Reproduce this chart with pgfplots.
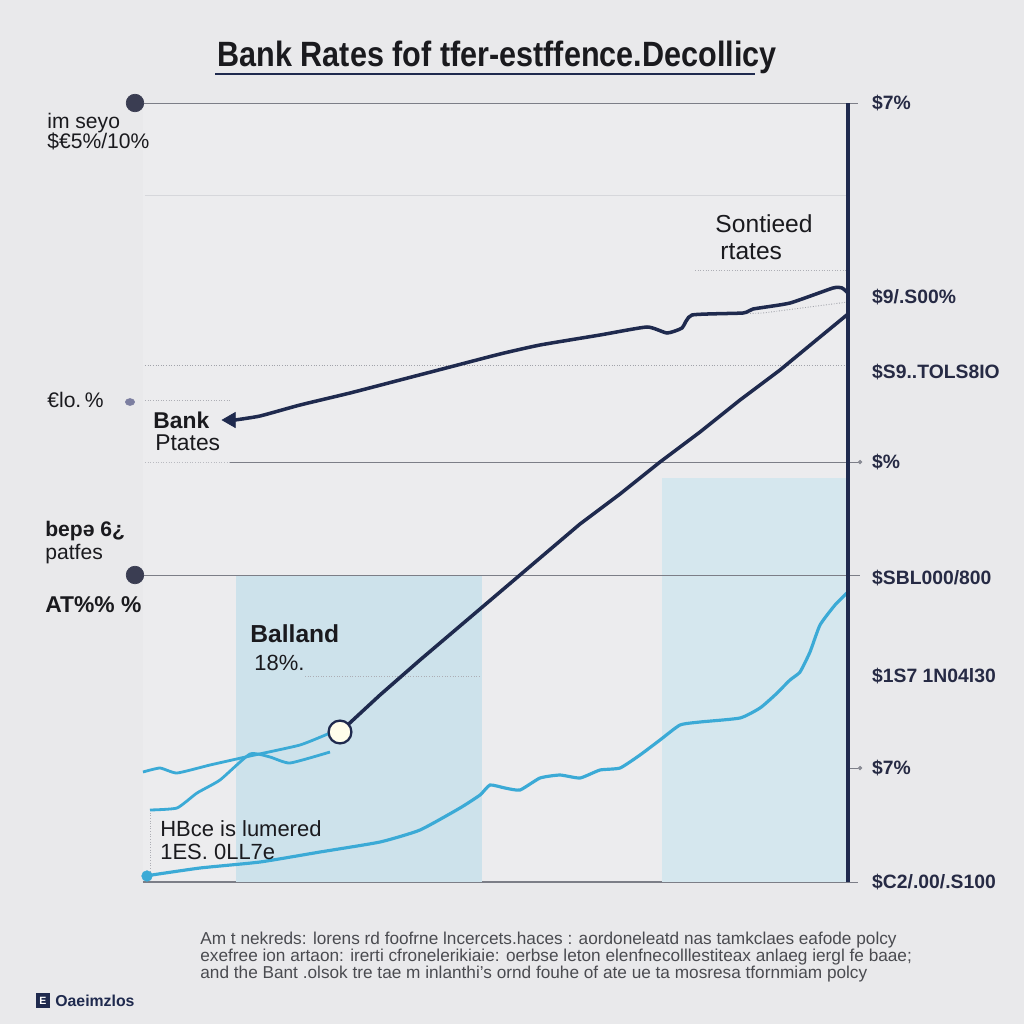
\documentclass[border=0pt]{standalone}
\usepackage{pgfplots}
\pgfplotsset{compat=1.18}
\usepackage{fontspec}
\setmainfont{Liberation Sans}
\definecolor{bg}{HTML}{E9E9EB}
\definecolor{plotbg}{HTML}{ECECEE}
\definecolor{navy}{HTML}{1F2A4E}
\definecolor{dotnavy}{HTML}{3A3D52}
\definecolor{lblue}{HTML}{3BAAD6}
\definecolor{shadeA}{HTML}{CDE2EB}
\definecolor{shadeB}{HTML}{D5E7EE}
\definecolor{grid}{HTML}{8A8C95}
\definecolor{gline}{HTML}{7C7E87}
\definecolor{faint}{HTML}{D6D7DB}
\definecolor{txt}{HTML}{1A1A1E}
\definecolor{rlab}{HTML}{262A44}
\definecolor{para}{HTML}{4A4B50}
\begin{document}
\begin{tikzpicture}
\begin{scope}[x=0.02cm,y=-0.02cm]
\fill[bg] (0,0) rectangle (1024,1024);
\end{scope}
\begin{axis}[
  at={(2.86cm,-17.64cm)}, anchor=south west,
  scale only axis, width=14.1cm, height=15.58cm,
  xmin=0, xmax=705, ymin=0, ymax=779,
  clip=false,
  axis background/.style={fill=plotbg},
  axis x line*=bottom, axis y line*=right,
  x axis line style={draw=gline, line width=0.6pt, -},
  y axis line style={draw=none, -},
  xtick=\empty,
  ytick={779,585,510,420,304,206,114,0},
  yticklabels={\$7\%, \$9/.S00\%, \$S9..TOLS8IO, \$\%, \$SBL000/800, \$1S7 1N04l30, \$7\%, \$C2/.00/.S100},
  major tick length=0pt,
  yticklabel style={font=\fontsize{11}{13}\selectfont\bfseries, color=rlab, anchor=west, xshift=0.36cm},
]
% shaded panels
\addplot[fill=shadeA, draw=none] coordinates {(93,307) (339,307)} \closedcycle;
\addplot[fill=shadeB, draw=none] coordinates {(519,404) (705,404)} \closedcycle;
% grid lines
\addplot[faint, line width=0.5pt] coordinates {(2,687) (705,687)};
\addplot[grid!80, densely dotted, line width=0.5pt] coordinates {(2,517) (705,517)};
\addplot[gline, line width=0.55pt] coordinates {(-8,779) (715,779)};
\addplot[gline, line width=0.55pt] coordinates {(-8,307) (717,307)};
\addplot[gline, line width=0.5pt] coordinates {(87,420) (717,420)};
\addplot[grid!60, densely dotted, line width=0.5pt] coordinates {(2,420) (87,420)};
\addplot[grid!70, densely dotted, line width=0.5pt] coordinates {(2,482) (87,482)};
\addplot[grid!70, densely dotted, line width=0.5pt] coordinates {(162,206) (337,206)};
\addplot[grid!70, densely dotted, line width=0.5pt] coordinates {(552,612) (705,612)};
\addplot[grid!70, densely dotted, line width=0.5pt] coordinates {(7,72) (7,6)};
\addplot[gline, line width=0.5pt] coordinates {(705,114) (715,114)};
\addplot[gline, line width=0.5pt] coordinates {(705,0) (715,0)};
\addplot[only marks, mark=*, mark size=1pt, mark options={fill=grid, draw=grid}] coordinates {(717,420) (717,114)};
% left dots
\addplot[only marks, mark=*, mark size=5pt, mark options={fill=dotnavy, draw=dotnavy}] coordinates {(-8,779) (-8,307)};
\addplot[only marks, mark=*, mark size=2.6pt, mark options={fill=grid!90!blue, draw=grid!90!blue, yscale=0.75}] coordinates {(-13,480)};
% thin dotted guide near top right
\addplot[grid!80, densely dotted, line width=0.5pt] coordinates {(557,567) (620,569) (705,580)};
% light blue curves
\addplot[lblue, line width=1.6pt, smooth, tension=0.3] coordinates {(0,110) (17,114) (34,109) (67,117) (107,126) (157,137) (187,149)};
\addplot[lblue, line width=1.6pt, smooth, tension=0.3] coordinates {(7,72) (34,74) (54,89) (77,102) (107,128) (127,125) (147,119) (187,130)};
\addplot[lblue, line width=1.8pt, smooth, tension=0.3] coordinates {(2,6) (57,14) (117,20) (177,30) (237,40) (277,52) (317,74) (337,87) (347,97) (362,94) (377,92) (397,104) (417,107) (437,104) (457,112) (477,114) (497,127) (517,142) (537,157) (557,160) (597,164) (617,174) (632,187) (647,202) (657,210) (667,230) (677,257) (692,277) (705,290)};
\addplot[only marks, mark=*, mark size=3pt, mark options={fill=lblue, draw=lblue}] coordinates {(4,6)};
% navy lines
\addplot[navy, line width=2pt] coordinates {(197,150) (237,187) (277,222) (317,256) (357,290) (397,324) (437,358) (477,388) (517,420) (557,450) (597,482) (637,512) (677,545) (705,568)};
\addplot[navy, line width=2pt, smooth, tension=0.3] coordinates {(92,462) (117,466) (157,477) (207,489) (257,502) (307,515) (357,528) (397,537) (457,547) (504,555) (524,549) (539,554) (549,567) (600,569) (610,573) (647,579) (690,594) (699,594) (705,589)};
\addplot[only marks, mark=triangle*, mark size=5pt, mark options={rotate=90, fill=navy, draw=navy}] coordinates {(88,462)};
\addplot[only marks, mark=*, mark size=6.5pt, mark options={fill=white!92!yellow, draw=navy, line width=1.3pt}] coordinates {(197,150)};
% right axis line
\addplot[navy, line width=1.8pt] coordinates {(705,0) (705,779)};
\end{axis}
\begin{scope}[x=0.02cm,y=-0.02cm]
% title
\node[font=\fontsize{20}{22}\selectfont\bfseries, text=txt, anchor=base, xscale=0.87] at (497,66) {Bank Rates fof tfer-estffence.Decollicy};
\draw[navy, line width=1.4pt] (215,74) -- (755,74);
% left labels
\node[font=\fontsize{12}{14}\selectfont, text=txt, anchor=base west, inner sep=0] at (47,128) {im seyo};
\node[font=\fontsize{12}{14}\selectfont, text=txt, anchor=base west, inner sep=0] at (47,148) {\$€5\%/10\%};
\node[font=\fontsize{12}{14}\selectfont, text=txt, anchor=base west, inner sep=0] at (47,407) {€lo.\,\%};
\node[font=\fontsize{13}{15}\selectfont\bfseries, text=txt, anchor=base west, inner sep=0] at (153,428) {Bank};
\node[font=\fontsize{13}{15}\selectfont, text=txt, anchor=base west, inner sep=0] at (155,450) {Ptates};
\node[font=\fontsize{12}{14}\selectfont\bfseries, text=txt, anchor=base west, inner sep=0] at (45,536) {bepə 6¿};
\node[font=\fontsize{12}{14}\selectfont, text=txt, anchor=base west, inner sep=0] at (45,559) {patfes};
\node[font=\fontsize{13}{15}\selectfont\bfseries, text=txt, anchor=base west, inner sep=0] at (45,612) {AT\%\% \%};
\node[font=\fontsize{14}{16}\selectfont\bfseries, text=txt, anchor=base west, inner sep=0] at (250,642) {Balland};
\node[font=\fontsize{12.5}{15}\selectfont, text=txt, anchor=base west, inner sep=0] at (254,670) {18\%.};
\node[font=\fontsize{12.5}{15}\selectfont, text=txt, anchor=base west, inner sep=0] at (160,836) {HBce is lumered};
\node[font=\fontsize{12.5}{15}\selectfont, text=txt, anchor=base west, inner sep=0] at (160,859) {1ES. 0LL7e};
\node[font=\fontsize{14}{16}\selectfont, text=txt, anchor=base west, inner sep=0] at (715,232) {Sontieed};
\node[font=\fontsize{14}{16}\selectfont, text=txt, anchor=base west, inner sep=0] at (720,259) {rtates};
% bottom paragraph
\node[font=\fontsize{9.8}{11}\selectfont, text=para, anchor=base west, inner sep=0] at (200,944) {Am t nekreds: lorens rd foofrne lncercets.haces : aordoneleatd nas tamkclaes eafode polcy};
\node[font=\fontsize{9.8}{11}\selectfont, text=para, anchor=base west, inner sep=0] at (200,961) {exefree ion artaon: irerti cfronelerikiaie: oerbse leton elenfnecolllestiteax anlaeg iergl fe baae;};
\node[font=\fontsize{9.8}{11}\selectfont, text=para, anchor=base west, inner sep=0] at (200,978) {and the Bant .olsok tre tae m inlanthi's ornd fouhe of ate ue ta mosresa tfornmiam polcy};
% footer
\fill[navy] (36,993) rectangle (50,1008);
\node[font=\fontsize{6}{7}\selectfont\bfseries, text=white, inner sep=0] at (43,1000.5) {E};
\node[font=\fontsize{9}{10}\selectfont\bfseries, text=navy, anchor=west, inner sep=0] at (55,1000.5) {Oaeimzlos};
\end{scope}
\pgfresetboundingbox
\path[use as bounding box] (0,0) rectangle (20.48cm,-20.48cm);
\end{tikzpicture}
\end{document}
